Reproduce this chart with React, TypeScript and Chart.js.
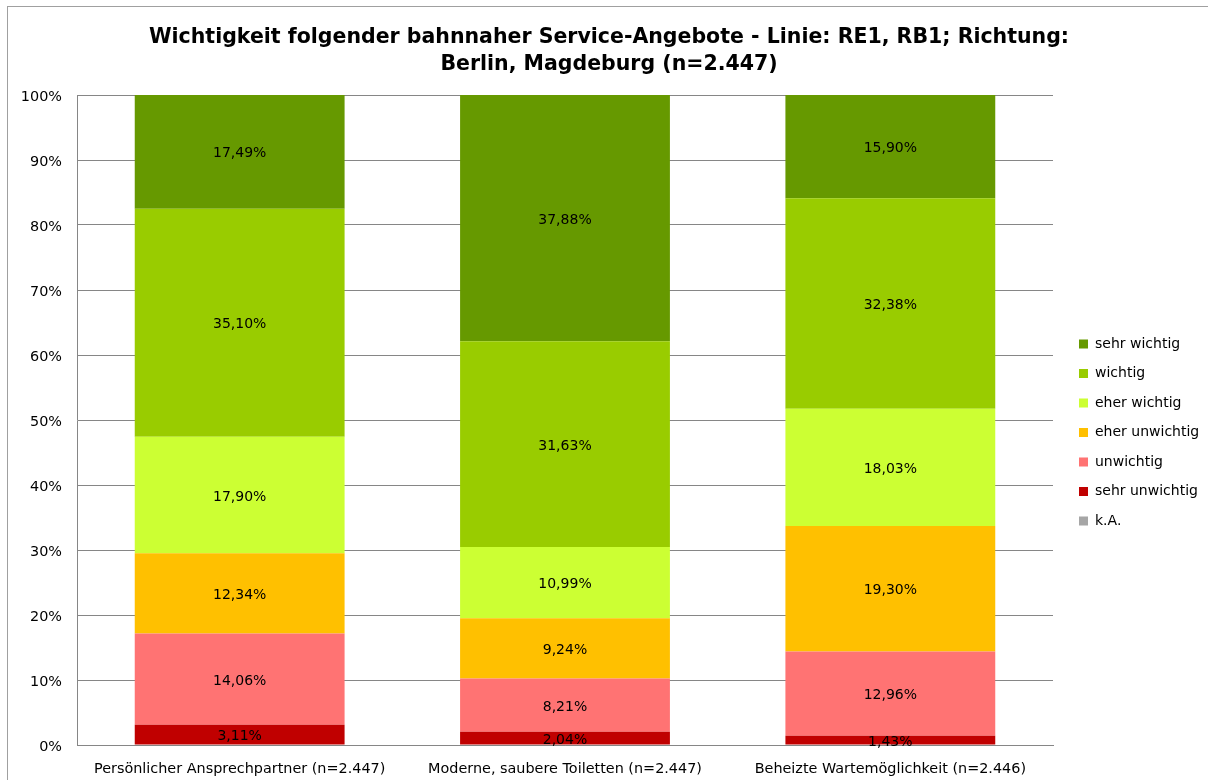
import React, { useEffect, useRef } from 'react';
import { Chart, registerables } from 'chart.js';

Chart.register(...registerables);

const categories = [
  'Persönlicher Ansprechpartner (n=2.447)',
  'Moderne, saubere Toiletten (n=2.447)',
  'Beheizte Wartemöglichkeit (n=2.446)',
];

const sehrUnwichtig = [3.11, 2.04, 1.43];
const unwichtig = [14.06, 8.21, 12.96];
const eherUnwichtig = [12.34, 9.24, 19.3];
const eherWichtig = [17.9, 10.99, 18.03];
const wichtig = [35.1, 31.63, 32.38];
const sehrWichtig = [17.49, 37.88, 15.9];
const keineAngabe = [0, 0, 0];

const seriesLabels = ['sehr unwichtig', 'unwichtig', 'eher unwichtig', 'eher wichtig', 'wichtig', 'sehr wichtig', 'k.A.'];
const seriesColors = ['#C00000', '#FF7373', '#FFC000', '#CCFF33', '#99CC00', '#669900', '#A6A6A6'];
const legendOrder = ['sehr wichtig', 'wichtig', 'eher wichtig', 'eher unwichtig', 'unwichtig', 'sehr unwichtig', 'k.A.'];

const titleLines = [
  'Wichtigkeit folgender bahnnaher Service-Angebote - Linie: RE1, RB1; Richtung:',
  'Berlin, Magdeburg (n=2.447)',
];

const FONT = "'DejaVu Sans', Verdana, sans-serif";

export default function App() {
  const ref = useRef<HTMLCanvasElement | null>(null);

  useEffect(() => {
    document.body.style.margin = '0';
    const canvas = ref.current;
    if (!canvas) return;

    const W = 1208;
    const plotLeft = 77;
    const plotRight = 1053;
    const plotBottom = 745;
    const legendPad = 15.5;
    const legendFont = 14;
    const boxW = 9;
    const titleCenter = 609;

    const mctx = document.createElement('canvas').getContext('2d')!;
    mctx.font = `${legendFont}px ${FONT}`;
    let maxText = 0;
    for (const l of seriesLabels) maxText = Math.max(maxText, mctx.measureText(l).width);
    const legendW = maxText + 41.5;
    const padRight = Math.max(0, W - plotRight - legendW);

    const allSeries = [sehrUnwichtig, unwichtig, eherUnwichtig, eherWichtig, wichtig, sehrWichtig, keineAngabe];

    const framePlugin = {
      id: 'frame',
      beforeDraw(chart: any) {
        const c = chart.ctx;
        c.save();
        c.fillStyle = '#ffffff';
        c.fillRect(0, 0, chart.width, chart.height);
        c.strokeStyle = '#a0a0a0';
        c.lineWidth = 1;
        c.strokeRect(7.5, 6.5, 1400, 1000);
        c.restore();
      },
    };

    const boxShift = {
      id: 'boxShift',
      afterLayout(chart: any) {
        const lg = chart.legend;
        if (lg) {
          const dx = 1079 - legendPad - lg.left;
          lg.left += dx;
          lg.right += dx;
          const dy = 344 - legendFont / 2 - legendPad - lg.top;
          lg.top += dy;
          lg.bottom += dy;
        }
        const tb = chart.titleBlock;
        if (tb) {
          const dx = titleCenter - (tb.left + tb.right) / 2;
          tb.left += dx;
          tb.right += dx;
        }
      },
    };

    const valueLabels = {
      id: 'valueLabels',
      afterDatasetsDraw(chart: any) {
        const c = chart.ctx;
        c.save();
        c.font = `14px ${FONT}`;
        c.fillStyle = '#000000';
        c.textAlign = 'center';
        c.textBaseline = 'middle';
        chart.data.datasets.forEach((ds: any, i: number) => {
          const meta = chart.getDatasetMeta(i);
          meta.data.forEach((el: any, j: number) => {
            const v = ds.data[j];
            if (!v) return;
            const txt = v.toFixed(2).replace('.', ',') + '%';
            c.fillText(txt, el.x, (el.y + el.base) / 2 + 2);
          });
        });
        c.restore();
      },
    };

    const chart = new Chart(canvas, {
      type: 'bar',
      data: {
        labels: categories,
        datasets: allSeries.map((d, i) => ({
          label: seriesLabels[i],
          data: d,
          backgroundColor: seriesColors[i],
          borderWidth: 0,
          categoryPercentage: 1,
          barPercentage: 0.645,
        })),
      },
      options: {
        responsive: false,
        animation: false,
        devicePixelRatio: 1,
        layout: { padding: { left: 0, right: padRight, top: 0, bottom: 0 } },
        plugins: {
          title: {
            display: true,
            text: titleLines,
            color: '#000000',
            font: { family: FONT, size: 20.5, weight: 'bold', lineHeight: 27 / 20.5 },
            padding: { top: 24.5, bottom: 16.5 },
          },
          legend: {
            display: true,
            position: 'right',
            align: 'start',
            labels: {
              boxWidth: boxW,
              boxHeight: boxW,
              padding: legendPad,
              color: '#000000',
              font: { family: FONT, size: legendFont },
              sort: (a: any, b: any) => legendOrder.indexOf(a.text) - legendOrder.indexOf(b.text),
            },
          },
          tooltip: { enabled: false },
        },
        scales: {
          x: {
            stacked: true,
            grid: { display: false, drawTicks: false },
            border: { display: true, color: '#868686', width: 1 },
            ticks: { color: '#000000', padding: 16, font: { family: FONT, size: 14.4 }, maxRotation: 0 },
            afterFit: (s: any) => { s.height = 780 - plotBottom; },
          },
          y: {
            stacked: true,
            min: 0,
            max: 100,
            grid: { color: '#868686', drawTicks: false, lineWidth: 1 },
            border: { display: true, color: '#868686', width: 1 },
            ticks: {
              stepSize: 10,
              color: '#000000',
              padding: 15,
              labelOffset: 2.5,
              font: { family: FONT, size: 14.4 },
              callback: (v: any) => v + '%',
            },
            afterFit: (s: any) => { s.width = plotLeft; },
          },
        },
      },
      plugins: [framePlugin, boxShift, valueLabels],
    } as any);

    return () => chart.destroy();
  }, []);

  return (
    <div style={{ width: 1208, height: 780, position: 'relative' }}>
      <canvas ref={ref} width={1208} height={780} style={{ display: 'block' }} />
    </div>
  );
}
